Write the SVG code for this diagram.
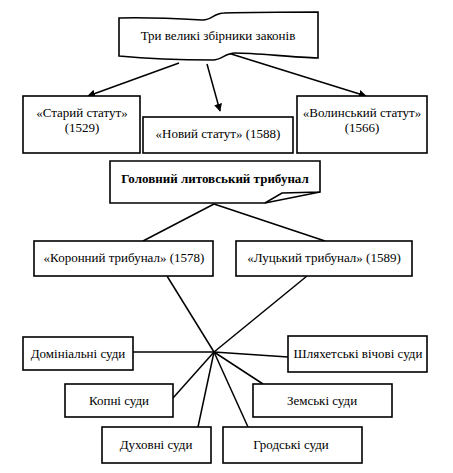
<svg xmlns="http://www.w3.org/2000/svg" width="453" height="473" viewBox="0 0 453 473">
<style>
.box{fill:#fff;stroke:#000;stroke-width:1.6}
text{font-family:'Liberation Serif','Times New Roman',Times,serif;font-size:13px;fill:#000;text-anchor:middle}
.b{font-weight:bold}
.ln{stroke:#000;stroke-width:1.5;fill:none}
</style>
<defs>
<marker id="arr" viewBox="0 0 10 10" refX="9" refY="5" markerWidth="8" markerHeight="8" markerUnits="userSpaceOnUse" orient="auto">
<path d="M0,0 L10,5 L0,10 z" fill="#000"/>
</marker>
</defs>
<rect width="453" height="473" fill="#fff"/>
<g id="connectors">
<line class="ln" x1="179" y1="63" x2="88" y2="96" marker-end="url(#arr)"/>
<line class="ln" x1="207" y1="64" x2="220" y2="111" marker-end="url(#arr)"/>
<line class="ln" x1="228" y1="53" x2="366" y2="96" marker-end="url(#arr)"/>
<line class="ln" x1="214" y1="204" x2="143" y2="241"/>
<line class="ln" x1="214" y1="204" x2="325" y2="241"/>
<line class="ln" x1="167" y1="276" x2="214" y2="352"/>
<line class="ln" x1="307" y1="276" x2="214" y2="352"/>
<line class="ln" x1="133" y1="352" x2="214" y2="352"/>
<line class="ln" x1="214" y1="352" x2="288" y2="357"/>
<line class="ln" x1="214" y1="352" x2="173" y2="398"/>
<line class="ln" x1="214" y1="352" x2="263" y2="384"/>
<line class="ln" x1="214" y1="352" x2="198" y2="427"/>
<line class="ln" x1="214" y1="352" x2="248" y2="427"/>
</g>
<g id="n-banner">
<path class="box" d="M119,18 C150,17 185,19 203,20 C212,20 214,13 224,13 C260,12 295,12 318,12 L318,58 C290,57 255,53 235,53 C225,53 222,60 213,60 C180,60 150,59 119,56 Z"/>
<text x="218" y="40">Три великі збірники законів</text>
</g>
<g id="n-staryi">
<rect class="box" x="23" y="96" width="117" height="57"/>
<text x="82" y="117">«Старий статут»</text>
<text x="82" y="132">(1529)</text>
</g>
<g id="n-novyi">
<rect class="box" x="143" y="117" width="150" height="36"/>
<text x="218" y="138">«Новий статут» (1588)</text>
</g>
<g id="n-volyn">
<rect class="box" x="297" y="96" width="130" height="57"/>
<text x="362" y="117">«Волинський статут»</text>
<text x="362" y="132">(1566)</text>
</g>
<g id="n-holovnyi">
<path class="box" d="M110,161 L320,161 L320,192 L282,193 L265,203 L110,203 Z"/>
<path class="ln" d="M265,203 L320,192"/>
<text class="b" x="215" y="183">Головний литовський трибунал</text>
</g>
<g id="n-koronnyi">
<rect class="box" x="34" y="241" width="179" height="35"/>
<text x="124" y="262">«Коронний трибунал» (1578)</text>
</g>
<g id="n-lutskyi">
<rect class="box" x="236" y="241" width="176" height="35"/>
<text x="324" y="262">«Луцький трибунал» (1589)</text>
</g>
<g id="n-dominial">
<rect class="box" x="23" y="337" width="110" height="33"/>
<text x="78" y="358">Домініальні суди</text>
</g>
<g id="n-shliakh">
<rect class="box" x="288" y="336" width="139" height="36"/>
<text x="358" y="358">Шляхетські вічові суди</text>
</g>
<g id="n-kopni">
<rect class="box" x="65" y="384" width="108" height="33"/>
<text x="119" y="405">Копні суди</text>
</g>
<g id="n-zemski">
<rect class="box" x="253" y="384" width="139" height="33"/>
<text x="322" y="405">Земські суди</text>
</g>
<g id="n-dukhovni">
<rect class="box" x="102" y="427" width="109" height="36"/>
<text x="156" y="449">Духовні суди</text>
</g>
<g id="n-hrodski">
<rect class="box" x="223" y="427" width="139" height="36"/>
<text x="291" y="449">Гродські суди</text>
</g>
</svg>
